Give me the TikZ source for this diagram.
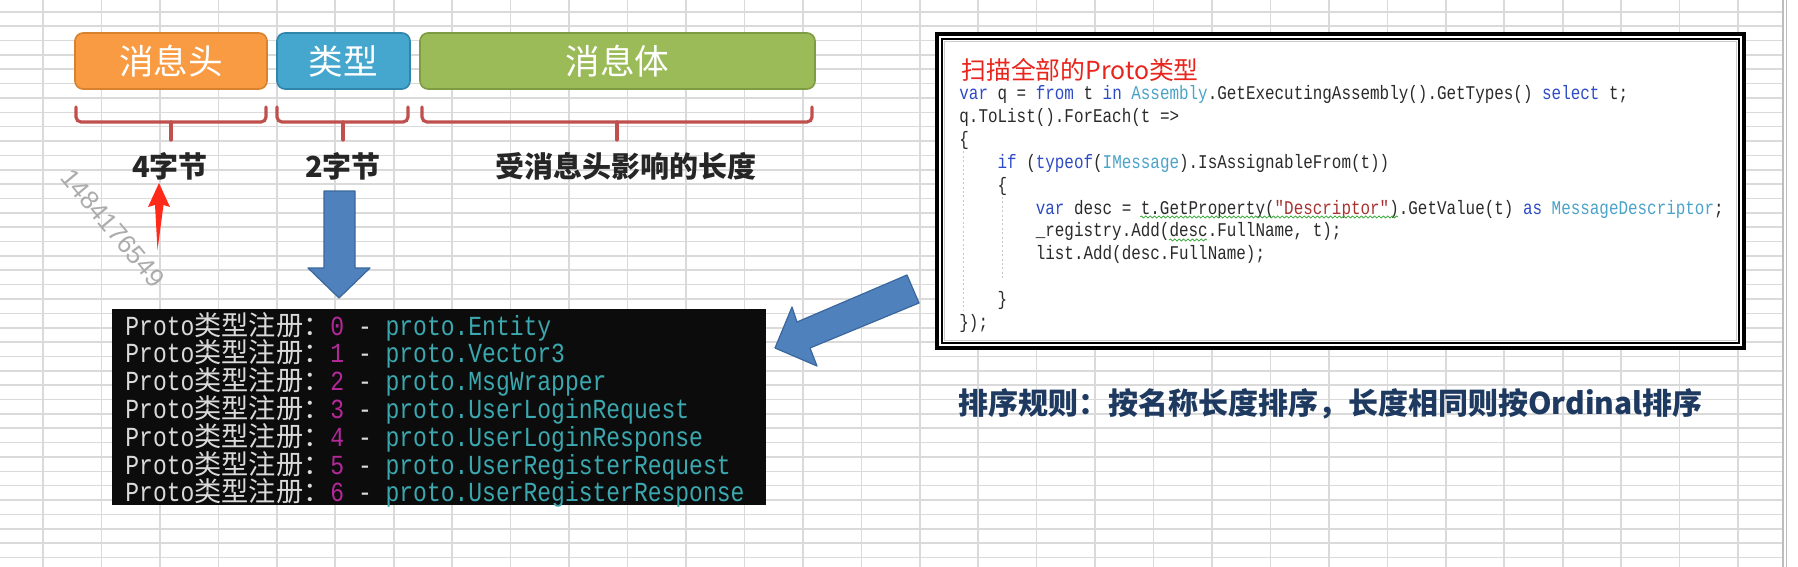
\documentclass[tikz,border=0pt]{standalone}
\usepackage{fontspec}
\usepackage{graphicx}
\usetikzlibrary{decorations.pathmorphing}
\newfontfamily\cjk{Noto Sans CJK SC}
\newfontfamily\mono{Liberation Mono}
\newfontfamily\wmfont{Liberation Sans}
\definecolor{gridc}{HTML}{DADADA}
\definecolor{edgec}{HTML}{BDBDBD}
\definecolor{orgF}{HTML}{F99B42}
\definecolor{orgD}{HTML}{D9822E}
\definecolor{bluF}{HTML}{45A7CD}
\definecolor{bluD}{HTML}{2F86A8}
\definecolor{grnF}{HTML}{9BBB59}
\definecolor{grnD}{HTML}{7E9C44}
\definecolor{bracec}{HTML}{C0504D}
\definecolor{arrowF}{HTML}{4F81BD}
\definecolor{arrowD}{HTML}{3A679C}
\definecolor{redarrow}{HTML}{FF2A1A}
\definecolor{consbg}{HTML}{0C0C0C}
\definecolor{ctext}{HTML}{DADADA}
\definecolor{cnum}{HTML}{B4289A}
\definecolor{cteal}{HTML}{3AA8AE}
\definecolor{kwc}{HTML}{2E4BC6}
\definecolor{tyc}{HTML}{4BA3C8}
\definecolor{stc}{HTML}{A83232}
\definecolor{codec}{HTML}{2A2A2A}
\definecolor{wavyc}{HTML}{3DAA3D}
\definecolor{titlec}{HTML}{E8241C}
\definecolor{navyc}{HTML}{1F3A60}
\newcommand\cmfont{\mono\fontsize{11.5pt}{12pt}\selectfont}
\newcommand\ccfont{\cjk\fontsize{13.6pt}{14pt}\selectfont}
\newcommand\tallmono[1]{\scalebox{1}[1.2]{\cmfont #1}}
\newcommand\consline[2]{{\color{ctext}\tallmono{Proto}\ccfont 类型注册：}{\color{cnum}\tallmono{#1}}{\color{ctext}\tallmono{\ -\ }}{\color{cteal}\tallmono{proto.#2}}}
\newcommand\cdfont{\mono\fontsize{7.96pt}{9pt}\selectfont}
\newcommand\codeline[1]{\scalebox{1}[1.22]{\color{codec}\cdfont #1}}
\newcommand\kw[1]{{\color{kwc}#1}}
\newcommand\ty[1]{{\color{tyc}#1}}
\newcommand\st[1]{{\color{stc}#1}}
\begin{document}
\begin{tikzpicture}[x=0.5pt,y=-0.5pt,
  gridline/.style={draw=gridc, line width=0.8pt},
  seg/.style={rounded corners=4pt, line width=0.8pt, inner sep=0pt, text=white,
    minimum height=28pt, font=\cjk\fontsize{17.3pt}{18pt}\selectfont},
  bracepath/.style={draw=bracec, line width=1.6pt, line cap=round, rounded corners=2.5pt},
  lab/.style={inner sep=0pt, text={black!85}, font=\cjk\bfseries\fontsize{14.5pt}{16pt}\selectfont},
  blockarrow/.style={fill=arrowF, draw=arrowD, line width=0.6pt, line join=round},
  txt/.style={inner sep=0pt, anchor=base west},
  wavy/.style={draw=wavyc, line width=0.4pt, decorate, decoration={snake, amplitude=0.5pt, segment length=2.2pt}},
  guide/.style={draw=gray!45, line width=0.4pt, dash pattern=on 1pt off 1.2pt}
]
\useasboundingbox[fill=white] (0,0) rectangle (1798,567);
% spreadsheet grid
\foreach \k in {0,...,29} \draw[gridline] ({43+58.45*\k},0) -- ({43+58.45*\k},567);
\foreach \k in {0,...,38} \draw[gridline] (0,{11.8+14.36*\k}) -- (1783,{11.8+14.36*\k});
\draw[draw=edgec, line width=0.8pt] (1783,0) -- (1783,567);
\draw[draw=edgec, line width=0.8pt] (1786.5,0) -- (1786.5,567);

% message segments
\node[seg, fill=orgF, draw=orgD, minimum width=96pt] (head) at (171,61) {消息头};
\node[seg, fill=bluF, draw=bluD, minimum width=66.5pt] (type) at (343.5,61) {类型};
\node[seg, fill=grnF, draw=grnD, minimum width=197.5pt] (body) at (617.5,61) {消息体};

% braces
\draw[bracepath] (76,107) -- (76,122) -- (266,122) -- (266,107);
\draw[bracepath] (171,122) -- (171,140);
\draw[bracepath] (277,107) -- (277,122) -- (408,122) -- (408,107);
\draw[bracepath] (343,122) -- (343,140);
\draw[bracepath] (422,107) -- (422,122) -- (812,122) -- (812,107);
\draw[bracepath] (617,122) -- (617,140);

% labels
\node[lab] (l4) at (170,166) {4字节};
\node[lab] (l2) at (343,166) {2字节};
\node[lab] (lb) at (626,166) {受消息头影响的长度};

% watermark
\node[rotate=-50, inner sep=0pt, text=gray!65, font=\wmfont\fontsize{13pt}{13pt}\selectfont] (wm) at (113,228) {1484176549};

% red arrow
\fill[redarrow] (159,183) -- (170,207) -- (163.5,205) -- (157.5,250) -- (155,205) -- (148,207) -- cycle;

% blue down arrow
\filldraw[blockarrow] (324,191) -- (355,191) -- (355,268) -- (370,268) -- (339,298) -- (308,268) -- (324,268) -- cycle;

% console
\node[fill=consbg, inner sep=0pt, outer sep=0pt, minimum width=327pt, minimum height=98pt, anchor=north west] (cons) at (112,309) {};
\node[txt] (c0) at (125,335) {\consline{0}{Entity}};
\node[txt] (c1) at (125,362.8) {\consline{1}{Vector3}};
\node[txt] (c2) at (125,390.6) {\consline{2}{MsgWrapper}};
\node[txt] (c3) at (125,418.4) {\consline{3}{UserLoginRequest}};
\node[txt] (c4) at (125,446.2) {\consline{4}{UserLoginResponse}};
\node[txt] (c5) at (125,474) {\consline{5}{UserRegisterRequest}};
\node[txt] (c6) at (125,501.8) {\consline{6}{UserRegisterResponse}};

% blue left arrow
\filldraw[blockarrow] (775,348) -- (792,307) -- (797,322) -- (907,275) -- (919,303) -- (810,348) -- (817,366) -- cycle;

% code frame
\node[draw=black, line width=2pt, fill=white, inner sep=0pt, outer sep=0pt, minimum width=403.5pt, minimum height=157pt, anchor=north west] (frame) at (937,34) {};
\draw[black, line width=0.75pt] ([shift={(5,5)}]frame.north west) rectangle ([shift={(-5,-5)}]frame.south east);
\draw[gray!40, line width=0.8pt] ([shift={(7.5,7.5)}]frame.north west) rectangle ([shift={(-7.5,-7.5)}]frame.south east);

\node[inner sep=0pt, anchor=west, text=titlec, font=\cjk\fontsize{12.4pt}{13pt}\selectfont] (title) at (961,70) {扫描全部的Proto类型};

% indent guides
\draw[guide] (963,147) -- (963,310);
\draw[guide] (1002,197) -- (1002,280);

\node[txt] (k1) at (959,100) {\codeline{\kw{var} q = \kw{from} t \kw{in} \ty{Assembly}.GetExecutingAssembly().GetTypes() \kw{select} t;}};
\node[txt] (k2) at (959,122.8) {\codeline{q.ToList().ForEach(t =>}};
\node[txt] (k3) at (959,145.6) {\codeline{\{}};
\node[txt] (k4) at (997.2,168.4) {\codeline{\kw{if} (\kw{typeof}(\ty{IMessage}).IsAssignableFrom(t))}};
\node[txt] (k5) at (997.2,191.2) {\codeline{\{}};
\node[txt] (k6) at (1035.4,214) {\codeline{\kw{var} desc = t.GetProperty(\st{"Descriptor"}).GetValue(t) \kw{as} \ty{MessageDescriptor};}};
\node[txt] (k7) at (1035.4,236.8) {\codeline{\_registry.Add(desc.FullName, t);}};
\node[txt] (k8) at (1035.4,259.6) {\codeline{list.Add(desc.FullName);}};
\node[txt] (k10) at (997.2,305.2) {\codeline{\}}};
\node[txt] (k11) at (959,328) {\codeline{\});}};
\draw[wavy] (1140,217) -- (1398,217);
\draw[wavy] (1169,240) -- (1207,240);

% sorting rule
\node[inner sep=0pt, anchor=west, text=navyc, font=\cjk\bfseries\fontsize{15pt}{17pt}\selectfont] (rule) at (958,404) {排序规则：按名称长度排序，长度相同则按Ordinal排序};
\end{tikzpicture}
\end{document}
